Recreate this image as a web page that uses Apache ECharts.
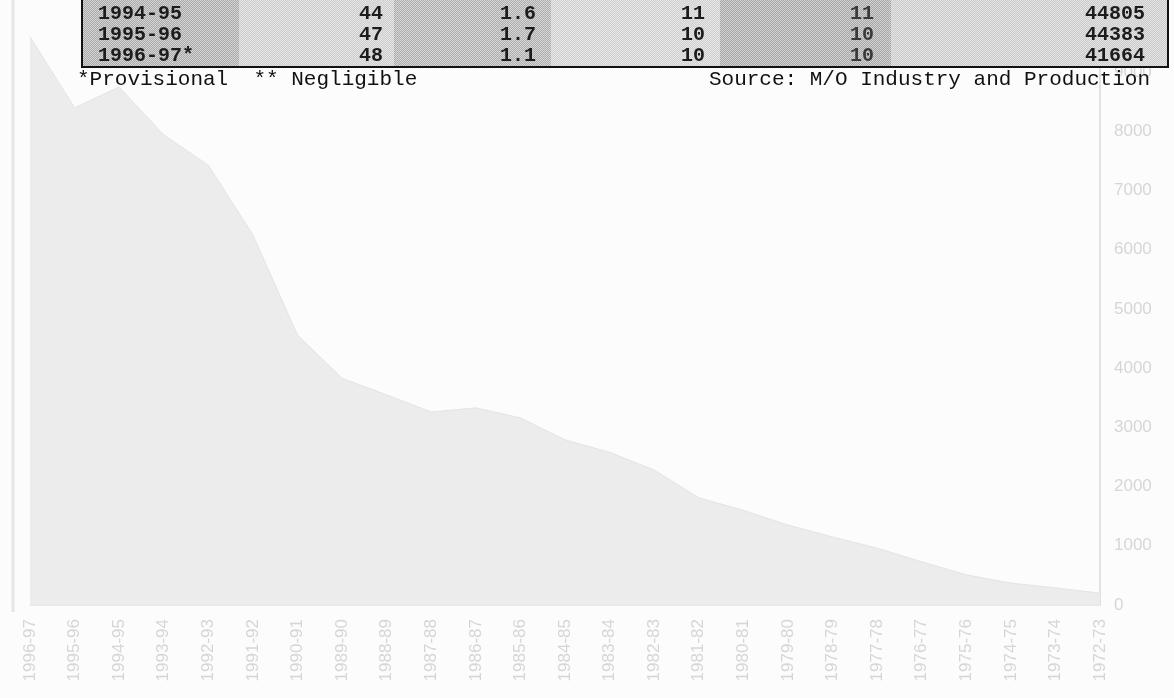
<!DOCTYPE html>
<html>
<head>
<meta charset="utf-8">
<script src="https://cdn.jsdelivr.net/npm/echarts@6/dist/echarts.min.js"></script>
<style>
html,body{margin:0;padding:0;background:#fcfcfc;}
#c{width:1174px;height:698px;}
</style>
</head>
<body>
<div id="c"></div>
<script>
// Faded show-through chart (chronological order; drawn with an inverted x axis)
const years = ['1972-73','1973-74','1974-75','1975-76','1976-77','1977-78','1978-79','1979-80','1980-81','1981-82','1982-83','1983-84','1984-85','1985-86','1986-87','1987-88','1988-89','1989-90','1990-91','1991-92','1992-93','1993-94','1994-95','1995-96','1996-97'];
const values = [200,290,370,510,730,960,1150,1350,1600,1810,2280,2580,2790,3160,3330,3260,3550,3830,4560,6250,7430,7940,8750,8400,9600];

// Table fragment
const tableYears = ['1994-95','1995-96','1996-97*'];
const colB = ['44','47','48'];
const colC = ['1.6','1.7','1.1'];
const colD = ['11','10','10'];
const colE = ['11','10','10'];
const colF = ['44805','44383','41664'];
const footLeft = '*Provisional  ** Negligible';
const footRight = 'Source: M/O Industry and Production';

function pattern(a, b) {
  const cv = document.createElement('canvas');
  cv.width = 2; cv.height = 2;
  const g = cv.getContext('2d');
  g.fillStyle = a; g.fillRect(0,0,2,2);
  g.fillStyle = b; g.fillRect(0,0,1,1); g.fillRect(1,1,1,1);
  return {image: cv, repeat: 'repeat'};
}

const chart = echarts.init(document.getElementById('c'));

const colEdges = [82, 239, 394, 551, 720, 891, 1168];
const colFills = [
  pattern('#a9a9a9','#d4d4d4'),
  pattern('#cdcdcd','#e4e4e4'),
  pattern('#adadad','#d6d6d6'),
  pattern('#cfcfcf','#e6e6e6'),
  pattern('#a6a6a6','#d2d2d2'),
  pattern('#cbcbcb','#e3e3e3')
];
const rowY = [14, 35, 56];
const tableTop = -4, tableBottom = 67;

const graphics = [];
// faint page frame line at the left
graphics.push({type:'line', z:1, shape:{x1:13, y1:0, x2:13, y2:612}, style:{stroke:'#e6e6e6', lineWidth:3}});
for (let i = 0; i < 6; i++) {
  graphics.push({type:'rect', z:10, shape:{x:colEdges[i], y:tableTop, width:colEdges[i+1]-colEdges[i], height:tableBottom-tableTop}, style:{fill:colFills[i]}});
}
graphics.push({type:'rect', z:12, shape:{x:colEdges[0], y:tableTop, width:colEdges[6]-colEdges[0], height:tableBottom-tableTop}, style:{fill:'none', stroke:'#111', lineWidth:2}});
const cellFont = 'bold 20px "Liberation Mono", "Courier New", monospace';
const rightEdges = [383, 536, 705, 874, 1145];
const cols = [colB, colC, colD, colE, colF];
for (let r = 0; r < 3; r++) {
  graphics.push({type:'text', z:14, x:98, y:rowY[r], style:{text:tableYears[r], font:cellFont, fill:'#1c1c1c', textAlign:'left', textVerticalAlign:'middle'}});
  for (let c = 0; c < cols.length; c++) {
    graphics.push({type:'text', z:14, x:rightEdges[c], y:rowY[r], style:{text:cols[c][r], font:cellFont, fill: c===3 ? '#3a3a3a' : '#1c1c1c', textAlign:'right', textVerticalAlign:'middle'}});
  }
}
const footFont = '21px "Liberation Mono", "Courier New", monospace';
graphics.push({type:'text', z:14, x:77, y:79, style:{text:footLeft, font:footFont, fill:'#111', textAlign:'left', textVerticalAlign:'middle'}});
graphics.push({type:'text', z:14, x:1150, y:79, style:{text:footRight, font:footFont, fill:'#111', textAlign:'right', textVerticalAlign:'middle'}});

chart.setOption({
  backgroundColor: '#fcfcfc',
  animation: false,
  grid: {left: 30, right: 74, top: 13, bottom: 93},
  xAxis: {
    type: 'category',
    data: years,
    inverse: true,
    boundaryGap: false,
    axisLine: {show: true, lineStyle: {color: '#e8e8e8'}},
    axisTick: {show: false},
    axisLabel: {rotate: 90, color: '#d6d6d6', fontSize: 17, margin: 14, fontFamily: 'Liberation Sans, Arial, sans-serif', interval: 0}
  },
  yAxis: {
    type: 'value',
    position: 'right',
    min: 0, max: 10000, interval: 1000,
    axisLine: {show: true, lineStyle: {color: '#e2e2e2', width: 2}},
    axisTick: {show: false},
    splitLine: {show: false},
    axisLabel: {color: '#d6d6d6', fontSize: 17, margin: 14, fontFamily: 'Liberation Sans, Arial, sans-serif',
      formatter: v => v >= 10000 ? '' : String(v)}
  },
  series: [{
    type: 'line',
    data: values,
    symbol: 'none',
    lineStyle: {color: '#e4e4e4', width: 1},
    areaStyle: {color: '#ececec', opacity: 1}
  }],
  graphic: graphics
});
</script>
</body>
</html>
